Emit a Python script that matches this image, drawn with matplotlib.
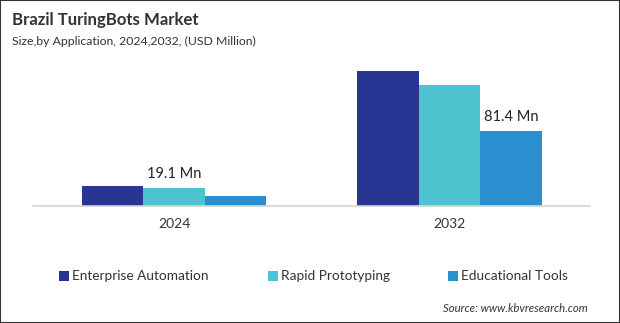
import matplotlib
matplotlib.use("Agg")
import matplotlib.pyplot as plt
from matplotlib.patches import Rectangle
import numpy as np

plt.rcParams['font.family'] = ['Lato', 'DejaVu Sans']

years = ["2024", "2032"]
series = ["Enterprise Automation", "Rapid Prototyping", "Educational Tools"]
values = {
    "Enterprise Automation": [21.4, 146.5],
    "Rapid Prototyping": [19.1, 131.0],
    "Educational Tools": [10.5, 81.4],
}
colors = ["#283593", "#4DC4CF", "#2A8FCF"]
labels = {("Rapid Prototyping", 0): "19.1 Mn", ("Educational Tools", 1): "81.4 Mn"}

W, H = 620, 323
fig = plt.figure(figsize=(W / 100, H / 100), dpi=100)
fig.patch.set_facecolor("white")

ax_left, ax_right = 33, 590
ax_bottom, ax_top = 205.7, 50
ax = fig.add_axes([ax_left / W, 1 - ax_bottom / H, (ax_right - ax_left) / W, (ax_bottom - ax_top) / H])

x = np.arange(len(years))
bw = 0.223
for i, s in enumerate(series):
    xs = x + (i - 1) * bw
    bars = ax.bar(xs, values[s], width=bw, color=colors[i], linewidth=0)
    for j, b in enumerate(bars):
        if (s, j) in labels:
            ax.annotate(labels[(s, j)], (b.get_x() + b.get_width() / 2, b.get_height()),
                        xytext=(0, 5), textcoords="offset points", ha="center", va="bottom",
                        fontsize=10.5, color="#222222")

ax.set_xlim(-0.512, 1.51)
ax.set_ylim(0, (ax_bottom - ax_top) / 0.9214)
ax.set_xticks(x)
ax.set_xticklabels(years, fontsize=10, color="#333333")
ax.tick_params(axis="x", length=0, pad=9)
ax.set_yticks([])
for sp in ["top", "left", "right"]:
    ax.spines[sp].set_visible(False)
ax.spines["bottom"].set_color("#d4d4d4")
ax.spines["bottom"].set_linewidth(1.2)

# Title
fig.text(12 / W, 1 - 20 / H, "Brazil TuringBots Market", fontsize=12.1, fontweight="bold",
         color="#333333", ha="left", va="center")
fig.text(12 / W, 1 - 41 / H, "Size,by Application, 2024,2032, (USD Million)", fontsize=8.8,
         color="#333333", ha="left", va="center")

# Legend
leg_x = [59, 268, 448]
leg_y = 276
for i, s in enumerate(series):
    fig.patches.append(Rectangle((leg_x[i] / W, 1 - (leg_y + 5) / H), 10 / W, 10 / H,
                                 transform=fig.transFigure, facecolor=colors[i], edgecolor="none"))
    fig.text((leg_x[i] + 13) / W, 1 - leg_y / H, s, fontsize=9.85, color="#333333",
             ha="left", va="center")

fig.text(588 / W, 1 - 309 / H, "Source: www.kbvresearch.com", fontsize=8.2, style="italic",
         color="#333333", ha="right", va="center")

# border
fig.patches.append(Rectangle((0, 0), 1, 1, transform=fig.transFigure, facecolor="none",
                             edgecolor="#333333", linewidth=1.5))

fig.savefig("out.png", dpi=100)
